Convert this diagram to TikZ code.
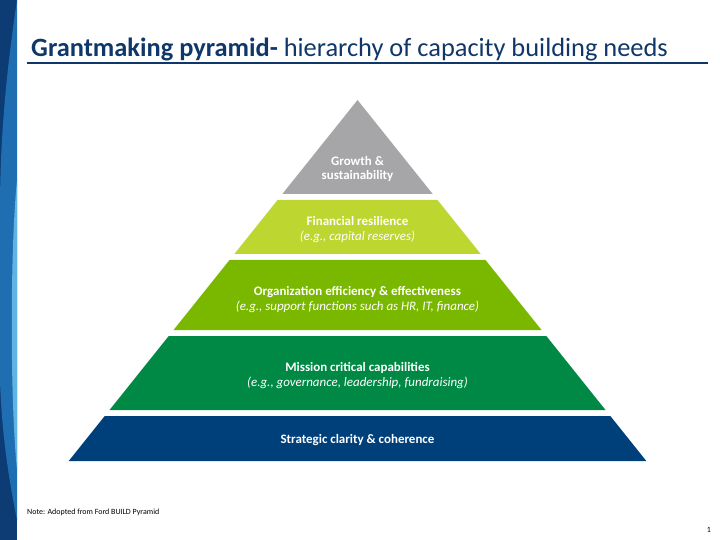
\documentclass[tikz,border=0pt]{standalone}
\usepackage{fontspec}
\setmainfont{Carlito}
\usetikzlibrary{positioning}

\definecolor{titleblue}{RGB}{15,55,105}
\definecolor{bandnavy}{RGB}{12,60,115}
\definecolor{bandmid}{RGB}{31,110,178}
\definecolor{bandlight}{RGB}{95,180,228}
\definecolor{topgray}{RGB}{166,166,168}
\definecolor{limegreen}{RGB}{190,214,48}
\definecolor{leafgreen}{RGB}{122,184,0}
\definecolor{deepgreen}{RGB}{0,137,68}
\definecolor{basenavy}{RGB}{0,64,122}

\begin{document}
\begin{tikzpicture}[x=1bp,y=-1bp]
    \tikzstyle{lvl}=[text=white, align=center, font=\fontsize{13}{15}\selectfont]

    \useasboundingbox (0,0) rectangle (720,540);

    % side band
    \fill[bandnavy] (0,0) rectangle (17,540);
    \fill[bandmid] (17,0) .. controls (8,60) and (0,130) .. (0,210) -- (0,380)
        .. controls (2,440) and (10,485) .. (17,520) -- cycle;
    \fill[bandlight] (17,180) .. controls (10,250) and (10,400) .. (17,470) -- cycle;

    % title
    \node[anchor=base west, inner sep=0pt, text=titleblue, font=\fontsize{26.5}{30}\selectfont] (title) at (31,57)
        {\textbf{Grantmaking pyramid-} hierarchy of capacity building needs};
    \coordinate (ruleL) at (27,63);
    \coordinate (ruleR) at (708,63);
    \draw[titleblue, line width=1.3pt] (ruleL) -- (ruleR);

    % pyramid layers
    \fill[topgray]   (357.5,100) -- (432.7,194) -- (282.3,194) -- cycle;
    \fill[limegreen] (277.5,200) -- (437.5,200) -- (480.7,254) -- (234.3,254) -- cycle;
    \fill[leafgreen] (229.5,260) -- (485.5,260) -- (541.5,330) -- (173.5,330) -- cycle;
    \fill[deepgreen] (168.7,336) -- (546.3,336) -- (605.5,410) -- (109.5,410) -- cycle;
    \fill[basenavy]  (104.7,416) -- (610.3,416) -- (646.3,461) -- (68.7,461) -- cycle;

    \node[lvl] (growth)   at (357.5,169)   {\textbf{Growth \&}\\\textbf{sustainability}};
    \node[lvl] (finance)  at (357.5,230)   {\textbf{Financial resilience}\\\textit{(e.g., capital reserves)}};
    \node[lvl] (orgeff)   at (357.5,300)   {\textbf{Organization efficiency \& effectiveness}\\\textit{(e.g., support functions such as HR, IT, finance)}};
    \node[lvl] (mission)  at (357.5,376)   {\textbf{Mission critical capabilities}\\\textit{(e.g., governance, leadership, fundraising)}};
    \node[lvl] (strategy) at (357.5,440)   {\textbf{Strategic clarity \& coherence}};

    % footer
    \node[anchor=west, inner sep=0pt, font=\fontsize{8}{10}\selectfont] (note) at (27,512) {Note: Adopted from Ford BUILD Pyramid};
    \node[anchor=east, inner sep=0pt, font=\fontsize{8}{10}\selectfont] (pageno) at (711,530) {1};
\end{tikzpicture}
\end{document}
